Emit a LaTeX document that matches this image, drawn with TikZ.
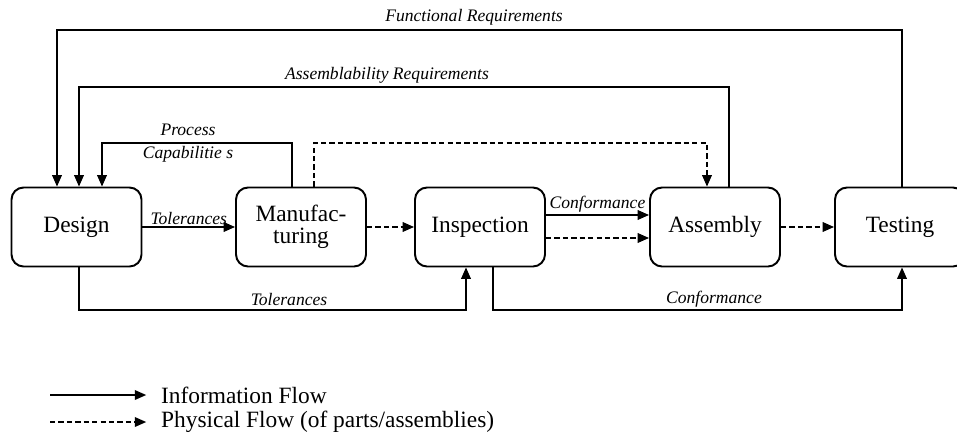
\documentclass[tikz,border=0pt]{standalone}
\usepackage{fontspec}
\setmainfont{Liberation Serif}
\usepackage{tikz}
\usetikzlibrary{arrows.meta,positioning}

\begin{document}
\begin{tikzpicture}[x=0.02cm,y=-0.02cm,
    stage/.style={draw,line width=1.1pt,rounded corners=0.24cm,minimum width=2.6cm,
      minimum height=1.58cm,inner sep=0pt,align=center,font=\fontsize{13.3}{12.5}\selectfont},
    info/.style={line width=0.85pt,-{Triangle[length=6.5pt,width=5.5pt]}},
    phys/.style={info,dash pattern=on 3pt off 1.8pt},
    plain/.style={line width=0.85pt},
    lbl/.style={font=\fontsize{10}{11}\selectfont\itshape,inner sep=1pt},
    key/.style={font=\fontsize{13.3}{14}\selectfont,anchor=west}]
      \useasboundingbox (0,0) rectangle (957,437);
      \clip (0,0) rectangle (957,437);
      \node[stage] (design) at (76.5,227) {Design};
      \node[stage] (manuf) at (301,227) {Manufac-\\turing};
      \node[stage] (inspection) at (480,227) {Inspection};
      \node[stage] (assembly) at (715,227) {Assembly};
      \node[stage] (testing) at (900,227) {Testing};
      % feedback rails on top
      \coordinate (fr) at (57,30);
      \coordinate (ar) at (79,87);
      \coordinate (pc) at (102,143);
      \coordinate (pf) at (707,143);
      \draw[info] ([xshift=0.04cm]testing.north) |- (fr) -- (fr |- design.north);
      \draw[info] ([xshift=0.28cm]assembly.north) |- (ar) -- (ar |- design.north);
      \draw[info] ([xshift=-0.18cm]manuf.north) |- (pc) -- (pc |- design.north);
      \draw[phys] ([xshift=0.26cm]manuf.north) |- (pf) -- (pf |- assembly.north);
      \node[lbl] (frl) at (474,17) {Functional Requirements};
      \node[lbl] (arl) at (387,75) {Assemblability Requirements};
      \node[lbl] (pcl1) at (188,130) {Process};
      \node[lbl] (pcl2) at (188,154) {Capabilitie s};
      % flow between stages
      \draw[info] (design) -- node[lbl,above] (tol1) {Tolerances} (manuf);
      \draw[phys] (manuf) -- (inspection);
      \draw[info] ([yshift=0.24cm]inspection.east) -- node[lbl,above] (conf1) {Conformance} ([yshift=0.24cm]assembly.west);
      \draw[phys] ([yshift=-0.22cm]inspection.east) -- ([yshift=-0.22cm]assembly.west);
      \draw[phys] (assembly) -- (testing);
      % rails underneath
      \coordinate (tb) at (466,310);
      \coordinate (cb) at (902,310);
      \draw[info] ([xshift=0.05cm]design.south) |- (tb) -- (tb |- inspection.south);
      \draw[info] ([xshift=0.26cm]inspection.south) |- (cb) -- (cb |- testing.south);
      \node[lbl] (tol2) at (289,299) {Tolerances};
      \node[lbl] (conf2) at (714,299) {Conformance};
      % legend
      \coordinate (k1) at (50,395);
      \coordinate (k2) at (50,422);
      \node[key] (infokey) at (155,395) {Information Flow};
      \node[key] (physkey) at (155,422) {Physical Flow (of parts/assemblies)};
      \draw[info,shorten >=5pt] (k1) -- (infokey.west |- k1);
      \draw[phys,shorten >=5pt] (k2) -- (physkey.west |- k2);
    \end{tikzpicture}
\end{document}
